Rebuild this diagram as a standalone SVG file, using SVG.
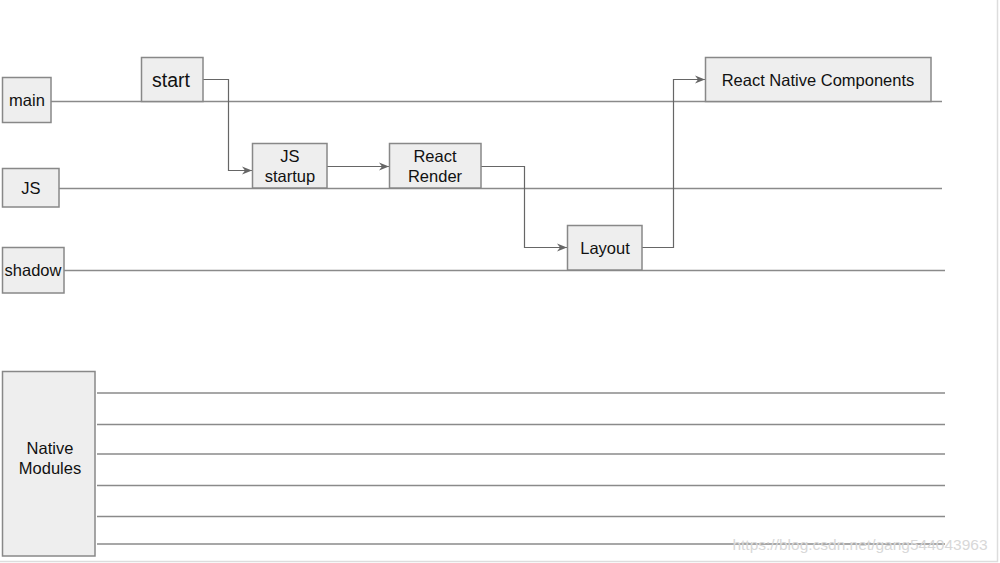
<svg xmlns="http://www.w3.org/2000/svg" width="1000" height="563" viewBox="0 0 1000 563">
<style>
.box{fill:#eeeeee;stroke:#888888;stroke-width:1.5}
.lane{stroke:#8a8a8a;stroke-width:1.5;fill:none}
.conn{stroke:#666666;stroke-width:1.2;fill:none}
text{font-family:"Liberation Sans",Arial,sans-serif;fill:#111;text-anchor:middle;font-size:16.5px}
</style>
<defs>
<marker id="ah" viewBox="0 0 10 10" refX="10" refY="5" markerWidth="10" markerHeight="10" markerUnits="userSpaceOnUse" orient="auto">
<path d="M0,1 L10,5 L0,9 L3,5 Z" fill="#666"/>
</marker>
</defs>
<rect x="0" y="0" width="1000" height="563" fill="#fff"/>
<line x1="997.5" y1="0" x2="997.5" y2="562" stroke="#dddddd" stroke-width="1.5"/>
<line x1="0" y1="561.5" x2="998" y2="561.5" stroke="#dddddd" stroke-width="1.5"/>
<g id="lanes">
<line class="lane" x1="51" y1="101.5" x2="942" y2="101.5"/>
<line class="lane" x1="59" y1="188.5" x2="942" y2="188.5"/>
<line class="lane" x1="64" y1="270.5" x2="945" y2="270.5"/>
<line class="lane" x1="97" y1="393" x2="945" y2="393"/>
<line class="lane" x1="97" y1="424.5" x2="945" y2="424.5"/>
<line class="lane" x1="97" y1="454" x2="945" y2="454"/>
<line class="lane" x1="97" y1="485.5" x2="945" y2="485.5"/>
<line class="lane" x1="97" y1="516.5" x2="945" y2="516.5"/>
<line class="lane" x1="97" y1="544" x2="945" y2="544"/>
</g>
<g id="connectors">
<path class="conn" d="M203,79.5 H228.5 V170.5 H252" marker-end="url(#ah)"/>
<path class="conn" d="M327,166.5 H389" marker-end="url(#ah)"/>
<path class="conn" d="M481,166.5 H524.5 V247.5 H567" marker-end="url(#ah)"/>
<path class="conn" d="M642,247.5 H673.5 V79.5 H705" marker-end="url(#ah)"/>
</g>
<g id="main"><rect class="box" x="2.5" y="77.5" width="48.5" height="45"/><text x="27" y="106">main</text></g>
<g id="js"><rect class="box" x="2.5" y="168.5" width="56.5" height="38.5"/><text x="31" y="194">JS</text></g>
<g id="shadow"><rect class="box" x="2.5" y="247.5" width="61.5" height="45.5"/><text x="33" y="276">shadow</text></g>
<g id="native-modules"><rect class="box" x="2.5" y="371.5" width="92.5" height="184.5"/><text x="50" y="454">Native</text><text x="50" y="474">Modules</text></g>
<g id="start"><rect class="box" x="141.5" y="57.5" width="61.5" height="44"/><text x="171" y="87" style="font-size:19.5px">start</text></g>
<g id="js-startup"><rect class="box" x="252.5" y="143.5" width="74.5" height="44.5"/><text x="290" y="162">JS</text><text x="290" y="182">startup</text></g>
<g id="react-render"><rect class="box" x="389.5" y="143.5" width="91.5" height="44.5"/><text x="435" y="162">React</text><text x="435" y="182">Render</text></g>
<g id="layout"><rect class="box" x="567.5" y="225.5" width="74.5" height="44.5"/><text x="605" y="254">Layout</text></g>
<g id="rnc"><rect class="box" x="705.5" y="57.5" width="225.5" height="44"/><text x="818" y="86">React Native Components</text></g>
<text x="860" y="550" style="font-size:15.5px;fill:#d8d8d8">https://blog.csdn.net/gang544043963</text>
</svg>
